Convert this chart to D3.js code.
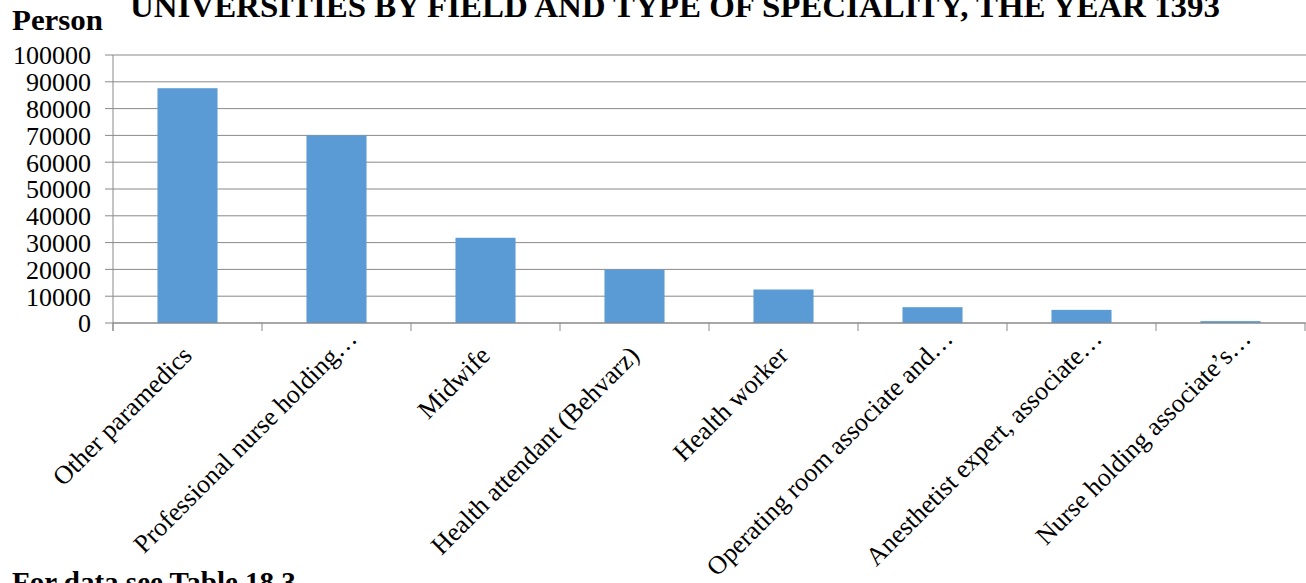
<!DOCTYPE html>
<html>
<head>
<meta charset="utf-8">
<script src="https://cdnjs.cloudflare.com/ajax/libs/d3/7.8.5/d3.min.js"></script>
<style>
  body { margin: 0; background: #fff; }
  svg text { font-family: "Liberation Serif", "Times New Roman", serif; fill: #000; }
</style>
</head>
<body>
<svg id="chart" width="1306" height="583"></svg>
<script>
// Data =============================================================
var categories = [
  "Other paramedics",
  "Professional nurse holding…",
  "Midwife",
  "Health attendant (Behvarz)",
  "Health worker",
  "Operating room associate and…",
  "Anesthetist expert, associate…",
  "Nurse holding associate’s…"
];
var persons = [87600, 70000, 31800, 19900, 12500, 5900, 4900, 700];
var yTicks = [0, 10000, 20000, 30000, 40000, 50000, 60000, 70000, 80000, 90000, 100000];

var titleText = "UNIVERSITIES BY FIELD AND TYPE OF SPECIALITY, THE YEAR 1393";
var yTitle = "Person";
var footText = "For data see Table 18.3";

// Layout ===========================================================
// (don't call these top/left at global scope - window.top is read only)
var plotLeft = 113, plotRight = 1305, plotTop = 55, plotBottom = 323;
var gridColor = "#898989";
var barColor = "#5b9bd5";

var svg = d3.select("#chart");

var x = d3.scaleBand()
  .domain(categories)
  .range([plotLeft, plotRight])
  .paddingInner(0.597)
  .paddingOuter(0.2985);

var y = d3.scaleLinear()
  .domain([0, 100000])
  .range([plotBottom, plotTop]);

// gridlines
svg.append("g")
  .selectAll("line")
  .data(yTicks)
  .enter()
  .append("line")
  .attr("x1", plotLeft - 8)
  .attr("x2", 1306)
  .attr("y1", function(d) { return y(d); })
  .attr("y2", function(d) { return y(d); })
  .attr("stroke", gridColor)
  .attr("stroke-width", 1);

// y axis
var yAxis = d3.axisLeft(y)
  .tickValues(yTicks)
  .tickSize(0)
  .tickPadding(22)
  .tickFormat(d3.format("d"));

var gy = svg.append("g")
  .attr("transform", "translate(" + plotLeft + ",0)")
  .call(yAxis);
gy.select(".domain").remove();
gy.selectAll("text")
  .attr("font-size", "26px")
  .attr("dy", "0.34em")
  .style("font-family", "Liberation Serif, serif")
  .attr("fill", "#000");

svg.append("line")
  .attr("x1", plotLeft).attr("x2", plotLeft)
  .attr("y1", plotTop).attr("y2", plotBottom + 8)
  .attr("stroke", gridColor);

// bars
svg.append("g")
  .selectAll("rect")
  .data(persons)
  .enter()
  .append("rect")
  .attr("x", function(d, i) { return x(categories[i]); })
  .attr("width", x.bandwidth())
  .attr("y", function(d) { return y(d); })
  .attr("height", function(d) { return y(0) - y(d); })
  .attr("fill", barColor);

// x axis baseline and category boundary ticks
svg.append("line")
  .attr("x1", plotLeft).attr("x2", plotRight)
  .attr("y1", y(0)).attr("y2", y(0))
  .attr("stroke", gridColor);

var gap = (x.step() - x.bandwidth()) / 2;
var bounds = categories.map(function(c) { return x(c) - gap; });
bounds.push(plotRight);
svg.append("g")
  .selectAll("line")
  .data(bounds)
  .enter()
  .append("line")
  .attr("x1", function(d) { return d; })
  .attr("x2", function(d) { return d; })
  .attr("y1", y(0))
  .attr("y2", y(0) + 8)
  .attr("stroke", gridColor);

// rotated category labels
svg.append("g")
  .selectAll("text")
  .data(categories)
  .enter()
  .append("text")
  .attr("text-anchor", "end")
  .attr("font-size", "26px")
  .attr("transform", function(d) {
    var cx = x(d) + x.bandwidth() / 2;
    var cut = d.slice(-1) === "…";
    var px = cut ? cx + 22 : cx + 6;
    var py = cut ? 340 : 357;
    return "translate(" + px + "," + py + ") rotate(-45)";
  })
  .text(function(d) { return d; });

// titles
svg.append("text")
  .attr("x", 130)
  .attr("y", 17)
  .attr("font-size", "31px")
  .attr("font-weight", "bold")
  .attr("textLength", 1090)
  .attr("lengthAdjust", "spacingAndGlyphs")
  .text(titleText);

svg.append("text")
  .attr("x", 12)
  .attr("y", 30)
  .attr("font-size", "29px")
  .attr("font-weight", "bold")
  .attr("textLength", 91)
  .attr("lengthAdjust", "spacingAndGlyphs")
  .text(yTitle);

svg.append("text")
  .attr("x", 12)
  .attr("y", 592)
  .attr("font-size", "29px")
  .attr("font-weight", "bold")
  .text(footText);
</script>
</body>
</html>
